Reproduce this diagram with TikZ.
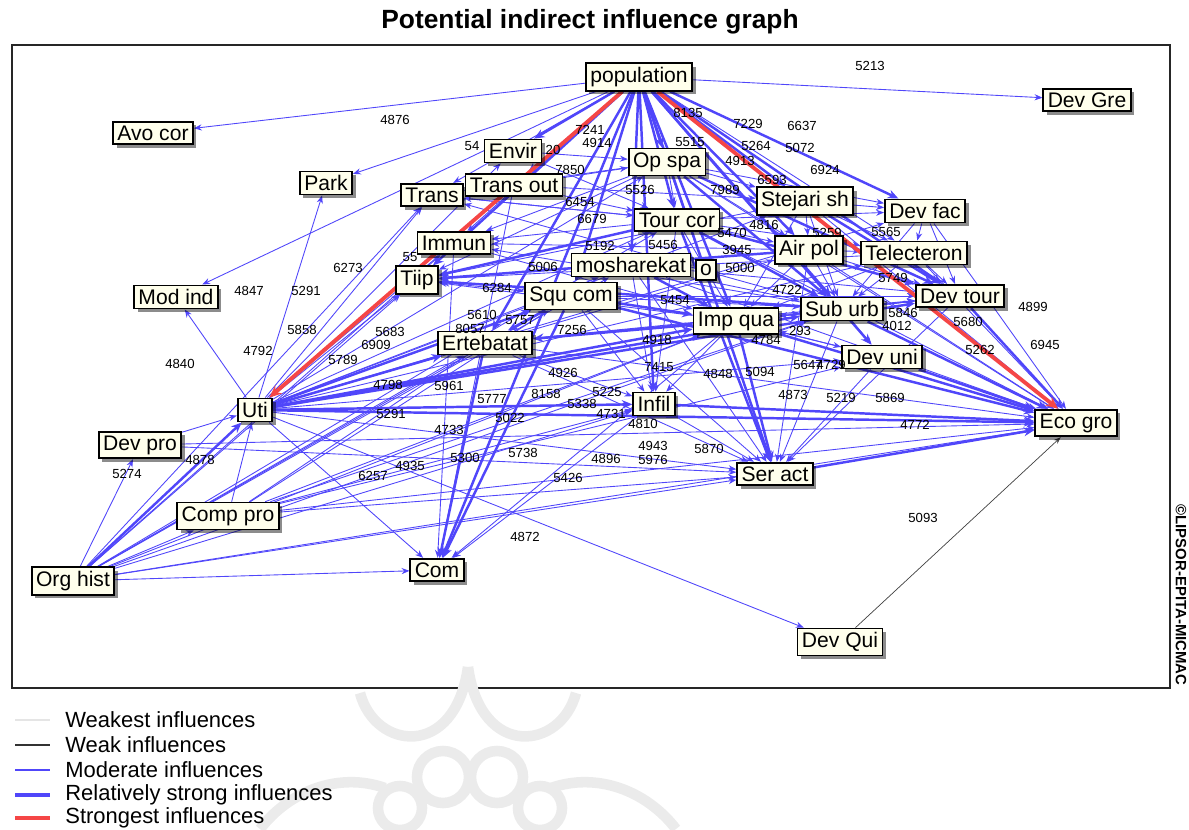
\documentclass[tikz,border=0pt]{standalone}
\usepackage{fontspec}
\setmainfont{Liberation Sans}
\usepackage{tikz}
\usetikzlibrary{arrows.meta}
\usetikzlibrary{shadows,backgrounds}

\definecolor{inflblue}{RGB}{80,70,250}
\definecolor{inflred}{RGB}{245,70,70}
\definecolor{boxfill}{RGB}{255,255,236}

\tikzset{
	varbox/.style={draw=black, line width=1pt, fill=boxfill, inner xsep=2.5pt, inner ysep=2.2pt,
		font=\fontsize{12}{13}\selectfont,
		drop shadow={shadow xshift=2pt, shadow yshift=-2pt, fill=black, opacity=0.45}},
	score/.style={font=\fontsize{7.5}{8}\selectfont, inner sep=0pt},
	legtext/.style={font=\fontsize{12.5}{13}\selectfont, anchor=west, inner sep=0pt},
	weakest/.style={draw=gray!25, line width=0.5pt, -{Stealth[length=4pt,width=3pt]}},
	weak/.style={draw=black!75, line width=0.4pt, -{Stealth[length=4pt,width=3pt]}},
	moderate/.style={draw=inflblue, line width=0.5pt, -{Stealth[length=4.5pt,width=3.5pt]}},
	strong/.style={draw=inflblue, line width=1.4pt, -{Stealth[length=6pt,width=5pt]}},
	strongest/.style={draw=inflred, line width=2.2pt, -{Stealth[length=7pt,width=6pt]}},
}

\begin{document}
\begin{tikzpicture}[x=0.02cm, y=-0.02cm]
	\useasboundingbox (0,0) rectangle (1189,829);
	
	% ---------------------
	% Title & watermark
	\node[font=\fontsize{15}{17}\selectfont\bfseries] (title) at (590,22) {Potential indirect influence graph};
	
	\begin{scope}[draw=gray!16, line width=6pt]
		\draw (360,693) .. controls (375,750) and (455,760) .. (468,667);
		\draw (468,667) .. controls (481,760) and (561,750) .. (576,693);
		\draw (260,829) .. controls (290,790) and (340,772) .. (385,788);
		\draw (676,829) .. controls (646,790) and (596,772) .. (551,788);
		\draw (443,777) circle (26);
		\draw (497,777) circle (26);
		\draw (400,808) circle (22);
		\draw (540,808) circle (22);
	\end{scope}
	
	% ---------------------
	% Variables
	\node[varbox] (pop)      at (639,77)  {population};
	\node[varbox] (devgre)   at (1087,100) {Dev Gre};
	\node[varbox] (avo)      at (153,133) {Avo cor};
	\node[varbox] (park)     at (326,183) {Park};
	\node[varbox] (envir)    at (513,151) {Envir};
	\node[varbox] (trans)    at (432,195) {Trans};
	\node[varbox] (transout) at (514,185) {Trans out};
	\node[varbox] (opspa)    at (667,162) {Op spa};
	\node[varbox] (stejari)  at (805,201) {Stejari sh};
	\node[varbox] (devfac)   at (925,211) {Dev fac};
	\node[varbox] (tourcor)  at (677,220) {Tour cor};
	\node[varbox] (immun)    at (454,243) {Immun};
	\node[varbox] (airpol)   at (809,250) {Air pol};
	\node[varbox] (tele)     at (914,253) {Telecteron};
	\node[varbox] (oo)       at (706,270) {o};
	\node[varbox] (mosh)     at (631,265) {mosharekat};
	\node[varbox] (tiip)     at (417,280) {Tiip};
	\node[varbox] (modind)   at (176,297) {Mod ind};
	\node[varbox] (squcom)   at (571,296) {Squ com};
	\node[varbox] (devtour)  at (960,296) {Dev tour};
	\node[varbox] (suburb)   at (842,309) {Sub urb};
	\node[varbox] (impqua)   at (736,321) {Imp qua};
	\node[varbox] (erteb)    at (485,343) {Ertebatat};
	\node[varbox] (devuni)   at (882,357) {Dev uni};
	\node[varbox] (uti)      at (255,410) {Uti};
	\node[varbox] (infil)    at (654,404) {Infil};
	\node[varbox] (ecogro)   at (1076,423) {Eco gro};
	\node[varbox] (devpro)   at (140,445) {Dev pro};
	\node[varbox] (seract)   at (775,474) {Ser act};
	\node[varbox] (comppro)  at (228,516) {Comp pro};
	\node[varbox] (orghist)  at (73,581)  {Org hist};
	\node[varbox] (com)      at (437,570) {Com};
	\node[varbox] (devqui)   at (840,642) {Dev Qui};
	
	% ---------------------
	% Influences
	\begin{scope}[on background layer]
		\draw[line width=1.2pt, black!85] (12,45) rectangle (1170,688);
		
		% moderate
		\foreach \a/\b in {pop/devgre, pop/avo, pop/park, pop/modind, pop/trans, pop/immun, pop/tele,
			uti/modind, uti/park, uti/devqui, uti/com, uti/seract, uti/trans, uti/immun, uti/transout, uti/envir,
			uti/tiip, uti/tourcor, uti/airpol, uti/tele, uti/devuni, uti/mosh, uti/opspa, uti/stejari, uti/devfac,
			orghist/comppro, orghist/devpro, orghist/erteb, orghist/squcom, orghist/impqua, orghist/ecogro,
			orghist/seract, orghist/infil, orghist/suburb, orghist/trans, orghist/immun, orghist/tiip,
			orghist/mosh, orghist/com, orghist/tourcor,
			comppro/ecogro, comppro/seract, comppro/infil, comppro/impqua, comppro/suburb, comppro/squcom,
			comppro/erteb, comppro/devuni, comppro/uti,
			devpro/ecogro, devpro/uti, devpro/seract,
			erteb/ecogro, erteb/seract, erteb/infil, erteb/suburb, erteb/devtour, erteb/impqua,
			squcom/seract, squcom/infil, squcom/suburb, squcom/devtour,
			mosh/seract, mosh/infil, mosh/ecogro, mosh/suburb, mosh/devtour,
			tourcor/ecogro, tourcor/infil, tourcor/airpol, tourcor/tele, tourcor/devfac, tourcor/impqua,
			tourcor/trans, tourcor/immun,
			opspa/ecogro, opspa/seract, opspa/tourcor, opspa/stejari, opspa/airpol, opspa/devfac,
			opspa/tiip, opspa/trans, opspa/immun,
			stejari/devfac, stejari/tele, stejari/airpol, stejari/suburb, stejari/ecogro, stejari/tiip, stejari/impqua,
			airpol/tele, airpol/devtour, airpol/suburb, airpol/ecogro, airpol/impqua, airpol/seract, airpol/immun,
			tele/devtour, tele/ecogro, tele/suburb, tele/impqua, tele/tiip,
			devfac/tele, devfac/ecogro, devfac/devtour, devfac/suburb,
			suburb/devtour, suburb/seract, suburb/devuni, suburb/impqua, suburb/immun, suburb/trans,
			impqua/infil, impqua/devuni, impqua/devtour, impqua/tiip, impqua/com,
			devtour/seract, devtour/impqua, devuni/seract, devuni/impqua, infil/seract, infil/com,
			envir/opspa, envir/tourcor, transout/opspa, transout/tourcor, transout/stejari, transout/com,
			immun/com, immun/impqua, trans/tourcor, tiip/squcom}
		\draw[moderate] (\a) -- (\b);
		
		% relatively strong
		\foreach \a/\b in {pop/mosh, pop/squcom, pop/infil, pop/seract, pop/com, pop/impqua, pop/tourcor,
			pop/opspa, pop/suburb, pop/devfac, pop/devtour, pop/stejari, pop/airpol, pop/erteb, pop/tiip,
			pop/transout, pop/envir, pop/devuni,
			uti/ecogro, uti/infil, uti/impqua, uti/suburb, uti/squcom, uti/erteb, uti/devtour,
			orghist/uti,
			impqua/seract, tourcor/seract, impqua/ecogro, suburb/ecogro, devtour/ecogro, devuni/ecogro,
			seract/ecogro, infil/ecogro, squcom/ecogro,
			tourcor/devtour, opspa/devtour, stejari/devtour, tourcor/suburb, opspa/suburb,
			squcom/impqua, mosh/impqua, tourcor/tiip, airpol/tiip, suburb/tiip,
			squcom/erteb, impqua/erteb, squcom/com, erteb/com}
		\draw[strong] (\a) -- (\b);
		
		% weak
		\draw[weak] (devqui) -- (ecogro);
		
		% strongest
		\draw[strongest] (pop) -- (uti);
		\draw[strongest] (pop) -- (ecogro);
	\end{scope}
	
	% ---------------------
	% Scores
	\foreach \v/\x/\y in {5213/870/66, 4876/395/120, 7241/590/130, 4914/597/143, 54/472/146, 20/553/150,
		8135/688/113, 7229/748/124, 6637/802/126, 5515/690/142, 5072/800/148, 5264/756/146, 4913/740/161,
		6924/825/170, 6593/772/180, 7850/570/170, 5526/640/190, 7989/725/190, 6454/580/202, 6679/592/219,
		4816/764/225, 5470/732/233, 5456/663/245, 5192/600/246, 3945/737/250, 5000/740/268, 5006/543/267,
		55/410/257, 6273/348/268, 4847/249/291, 5291/306/291, 6284/497/288, 5610/482/315, 5757/520/320,
		8057/470/329, 7256/572/330, 5858/302/330, 5683/390/332, 6909/376/345, 5789/343/360, 4792/258/351,
		4840/180/364, 4798/388/385, 5961/449/386, 5291/391/414, 5777/492/399, 8158/546/394, 4926/563/373,
		5225/607/392, 5338/582/404, 4731/611/414, 4810/643/424, 7415/659/367, 4918/657/340, 5454/675/300,
		4848/718/374, 5094/760/372, 4733/449/430, 5022/510/418, 5300/465/458, 5738/523/453, 4896/606/459,
		4943/653/446, 5976/653/460, 5870/709/449, 5426/568/478, 4935/410/466, 6257/373/476, 4872/525/537,
		5274/127/474, 4878/200/460, 5219/841/398, 5869/890/398, 4772/915/425, 5647/808/365, 4729/831/365,
		4873/793/395, 5680/968/322, 5262/980/350, 6945/1045/345, 4899/1033/307, 5749/893/278, 5565/886/232,
		5259/827/233, 5846/903/313, 4012/897/326, 293/800/331, 4722/787/290, 4784/766/340, 5093/923/518}
	\node[score] (s-\x-\y) at (\x,\y) {\v};
	
	% ---------------------
	% Copyright
	\node[rotate=-90, font=\fontsize{8.5}{9}\selectfont\bfseries, inner sep=0pt] (copy) at (1181,595) {©LIPSOR-EPITA-MICMAC};
	
	% ---------------------
	% Legend
	\draw[gray!20, line width=1.5pt] (15,720) -- (50,720);
	\draw[black!80, line width=0.6pt] (15,745) -- (50,745);
	\draw[inflblue, line width=0.8pt] (15,770) -- (50,770);
	\draw[inflblue, line width=2pt] (15,795) -- (50,795);
	\draw[inflred, line width=2.4pt] (15,818) -- (50,818);
	\node[legtext] (lg-weakest)  at (65,720) {Weakest influences};
	\node[legtext] (lg-weak)     at (65,745) {Weak influences};
	\node[legtext] (lg-moderate) at (65,770) {Moderate influences};
	\node[legtext] (lg-strong)   at (65,795) {Relatively strong influences};
	\node[legtext] (lg-strongest) at (65,818) {Strongest influences};
\end{tikzpicture}
\end{document}
